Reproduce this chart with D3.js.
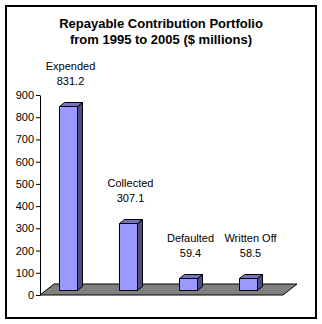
<!DOCTYPE html>
<html><head><meta charset="utf-8">
<script src="https://cdn.jsdelivr.net/npm/d3@7/dist/d3.min.js"></script>
<style>body{margin:0;background:#fff}svg{display:block}</style>
</head><body>
<script>
const categories = ["Expended", "Collected", "Defaulted", "Written Off"];
const values = [831.2, 307.1, 59.4, 58.5];
const valueLabels = ["831.2", "307.1", "59.4", "58.5"];
const yTicks = [0, 100, 200, 300, 400, 500, 600, 700, 800, 900];
const titleLines = ["Repayable Contribution Portfolio", "from 1995 to 2005 ($ millions)"];

const W = 322, H = 324;
const svg = d3.select("body").append("svg").attr("width", W).attr("height", H);
const font = "'Liberation Sans', Arial, sans-serif";

svg.append("rect").attr("x", 6).attr("y", 6).attr("width", 310).attr("height", 312)
  .attr("fill", "#fff").attr("stroke", "#000").attr("stroke-width", 2);

svg.selectAll("text.title").data(titleLines).enter().append("text")
  .attr("x", 161).attr("y", (d, i) => 27.5 + i * 16)
  .attr("text-anchor", "middle").attr("font-family", font)
  .attr("font-weight", "bold").attr("font-size", 13).text(d => d);

const y = d3.scaleLinear().domain([0, 900]).range([295, 95]);
const x = d3.scaleBand().domain(categories).range([38, 278]).paddingInner(0.7).paddingOuter(0.35);

// floor
const fdx = 14, fdy = -11;
const fx0 = 40, fx1 = 283, fy = y(0);
svg.append("polygon")
  .attr("points", [[fx0, fy], [fx1, fy], [fx1 + fdx, fy + fdy], [fx0 + fdx, fy + fdy]].map(p => p.join(",")).join(" "))
  .attr("fill", "#808080").attr("stroke", "#000").attr("stroke-width", 1);

// bars
const bdx = 5, bdy = -4, back = -4;
const g = svg.append("g");
categories.forEach((c, i) => {
  const x0 = Math.round(x(c)) + 0.5, x1 = x0 + x.bandwidth();
  const yb = y(0) + back - 0.5, yt = Math.round(y(values[i]) + back) + 0.5;
  const gg = g.append("g").attr("stroke", "#000").attr("stroke-width", 1).attr("stroke-linejoin", "round");
  gg.append("polygon").attr("fill", "#4d4d80")
    .attr("points", [[x1, yt], [x1 + bdx, yt + bdy], [x1 + bdx, yb + bdy], [x1, yb]].map(p => p.join(",")).join(" "));
  gg.append("polygon").attr("fill", "#7373c0")
    .attr("points", [[x0, yt], [x0 + bdx, yt + bdy], [x1 + bdx, yt + bdy], [x1, yt]].map(p => p.join(",")).join(" "));
  gg.append("rect").attr("x", x0).attr("y", yt).attr("width", x1 - x0).attr("height", yb - yt).attr("fill", "#9999ff");
  const cx = x(c) + x.bandwidth() / 2 + 2.5;
  const topY = y(values[i]) + back + bdy;
  svg.append("text").attr("x", cx).attr("y", topY - 32).attr("text-anchor", "middle")
    .attr("font-family", font).attr("font-size", 11).text(c);
  svg.append("text").attr("x", cx).attr("y", topY - 17).attr("text-anchor", "middle")
    .attr("font-family", font).attr("font-size", 11).text(valueLabels[i]);
});

// axis
const axis = svg.append("g").attr("transform", "translate(40,0)")
  .call(d3.axisLeft(y).tickValues(yTicks).tickSize(4).tickSizeOuter(0).tickPadding(2));
axis.selectAll("text").attr("font-family", font).attr("font-size", 11).attr("fill", "#000");
axis.selectAll("line,path").attr("stroke", "#000");
</script>
</body></html>
